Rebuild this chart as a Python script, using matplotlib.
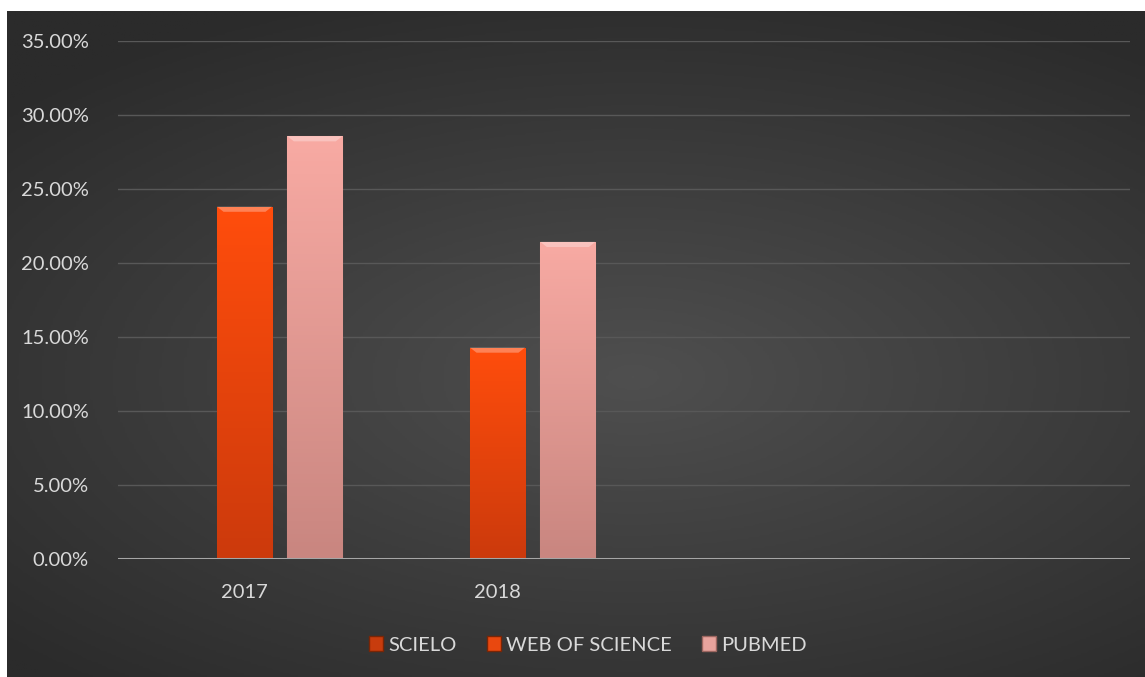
import numpy as np
import matplotlib
matplotlib.use("Agg")
import matplotlib.pyplot as plt
from matplotlib.colors import LinearSegmentedColormap
from matplotlib.patches import Patch

# data
categories = ["2017", "2018", "", ""]
series = ["SCIELO", "WEB OF SCIENCE", "PUBMED"]
scielo = [0.0, 0.0, 0.0, 0.0]
web_of_science = [23.81, 14.29, 0.0, 0.0]
pubmed = [28.57, 21.43, 0.0, 0.0]

plt.rcParams['font.family'] = ['Lato', 'DejaVu Sans']
txt = '#d9d9d9'

fig = plt.figure(figsize=(11.45, 6.77), dpi=100, facecolor='white')

# dark radial background of the chart area
bg = fig.add_axes([7 / 1145, 0, 1 - 7 / 1145, 1 - 11 / 677])
yy, xx = np.mgrid[-1:1:300j, -1:1:500j]
r = np.sqrt(((xx - 0.1) * 0.9) ** 2 + ((yy - 0.1) * 1.1) ** 2)
bg_cmap = LinearSegmentedColormap.from_list('bg', ['#4f4f4f', '#2b2b2b'])
bg.imshow(r, cmap=bg_cmap, aspect='auto', extent=[0, 1, 0, 1], vmin=0, vmax=1.35)
bg.axis('off')

ax = fig.add_axes([118 / 1145, 1 - 559 / 677, (1130 - 118) / 1145, (559 - 41) / 677])
ax.patch.set_alpha(0)

x = np.arange(len(categories))
w = 0.218
off = 0.278


def shaded_bars(xpos, vals, top, bottom, edge):
    bars = ax.bar(xpos, vals, w, color=top, edgecolor=edge, linewidth=0.8, zorder=3)
    cm = LinearSegmentedColormap.from_list('b', [bottom, top])
    grad = np.linspace(0, 1, 100).reshape(-1, 1)
    for b in bars:
        if b.get_height() <= 0:
            continue
        x0, y0 = b.get_x(), b.get_y()
        h = b.get_height()
        im = ax.imshow(grad, cmap=cm, origin='lower', aspect='auto',
                       extent=[x0, x0 + w, y0, y0 + h], zorder=3.5)
        im.set_clip_path(b)
        # light bevel on top
        ax.fill([x0, x0 + w, x0 + w * 0.88, x0 + w * 0.12],
                [y0 + h, y0 + h, y0 + h - 0.35, y0 + h - 0.35],
                color='white', alpha=0.3, lw=0, zorder=4)
    return bars


shaded_bars(x - off, scielo, '#d8420f', '#b5330a', '#7a2506')
shaded_bars(x, web_of_science, '#ff4d0d', '#cc3a0c', '#8a2a08')
shaded_bars(x + off, pubmed, '#f8aaa3', '#c98680', '#9c6660')

ax.set_xlim(-0.5, len(categories) - 0.5)
ax.set_ylim(0, 35)
ax.set_yticks(np.arange(0, 36, 5))
ax.set_yticklabels(['%.2f%%' % v for v in np.arange(0, 36, 5)])
ax.set_xticks(x)
ax.set_xticklabels(categories)
ax.tick_params(axis='both', length=0, colors=txt, labelsize=14.5)
ax.tick_params(axis='y', pad=21)
ax.tick_params(axis='x', pad=18)
ax.grid(axis='y', color='#585858', lw=1, zorder=0)
for s in ax.spines.values():
    s.set_visible(False)
ax.axhline(0, color='#a6a6a6', lw=2.2, zorder=5)

handles = [Patch(facecolor='#c83c0d', edgecolor='#7a2506'),
           Patch(facecolor='#e9480f', edgecolor='#7a2506'),
           Patch(facecolor='#e8a39d', edgecolor='#9c6660')]
fig.legend(handles, series, loc='center', bbox_to_anchor=(588 / 1145, 1 - 645 / 677),
           ncol=3, frameon=False, fontsize=14.5, labelcolor=txt,
           handlelength=0.7, handleheight=0.7, handletextpad=0.25, columnspacing=1.5)

fig.savefig('out.png', dpi=100, facecolor='white')
